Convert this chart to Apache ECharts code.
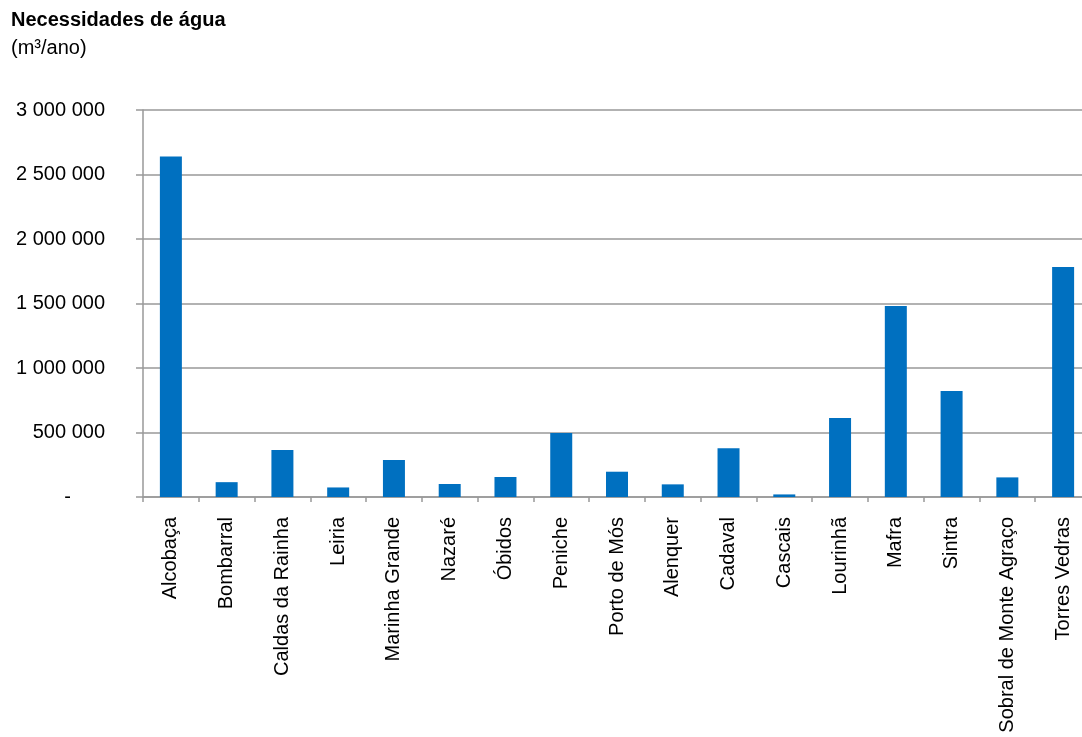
<!DOCTYPE html>
<html>
<head>
<meta charset="utf-8">
<script src="https://cdn.jsdelivr.net/npm/echarts@6/dist/echarts.min.js"></script>
<style>
html,body{margin:0;padding:0;background:#fff;}
#c{width:1082px;height:737px;}
</style>
</head>
<body>
<div id="c"></div>
<script>
const titleText = 'Necessidades de água';
const unitText = '(m³/ano)';
const categories = ['Alcobaça','Bombarral','Caldas da Rainha','Leiria','Marinha Grande','Nazaré','Óbidos','Peniche','Porto de Mós','Alenquer','Cadaval','Cascais','Lourinhã','Mafra','Sintra','Sobral de Monte Agraço','Torres Vedras'];
const values = [2640000,115000,364000,74000,287000,101000,155000,496000,196000,98000,377000,20000,612000,1481000,822000,152000,1783000];
const yTicks = {min: 0, max: 3000000, interval: 500000};

const FONT = '"Liberation Sans", Arial, sans-serif';
const chart = echarts.init(document.getElementById('c'), null, {renderer: 'canvas'});
function fmt(v){
  if (v === 0) return '{d|-}';
  return String(v).replace(/\B(?=(\d{3})+(?!\d))/g, ' ');
}
chart.setOption({
  animation: false,
  backgroundColor: '#ffffff',
  title: [
    {text: titleText, left: 11, top: 10, padding: 0, textStyle: {fontFamily: FONT, fontSize: 20, fontWeight: 'bold', color: '#000'}},
    {text: unitText, left: 11, top: 38, padding: 0, textStyle: {fontFamily: FONT, fontSize: 20, fontWeight: 'normal', color: '#000'}}
  ],
  grid: {left: 143, width: 948, top: 110, bottom: 240, containLabel: false, outerBoundsMode: 'none'},
  xAxis: {
    type: 'category',
    data: categories,
    axisLine: {show: true, lineStyle: {color: '#999', width: 1.5}},
    axisTick: {show: true, length: 5, lineStyle: {color: '#999', width: 1.5}},
    axisLabel: {rotate: 90, margin: 20, interval: 0, fontFamily: FONT, fontSize: 20, color: '#000'},
    splitLine: {show: false}
  },
  yAxis: {
    type: 'value',
    min: yTicks.min, max: yTicks.max, interval: yTicks.interval,
    axisLine: {show: true, lineStyle: {color: '#999', width: 1.5}},
    axisTick: {show: true, length: 7, lineStyle: {color: '#999', width: 1.5}},
    axisLabel: {margin: 38, fontFamily: FONT, fontSize: 20, color: '#000', formatter: fmt,
      rich: {d: {fontFamily: FONT, fontSize: 20, color: '#000', padding: [0, 34, 0, 0]}}},
    splitLine: {show: true, lineStyle: {color: '#999', width: 1.5}}
  },
  series: [{
    type: 'bar',
    data: values,
    barWidth: 22,
    itemStyle: {color: '#0070C0'}
  }]
});
</script>
</body>
</html>
